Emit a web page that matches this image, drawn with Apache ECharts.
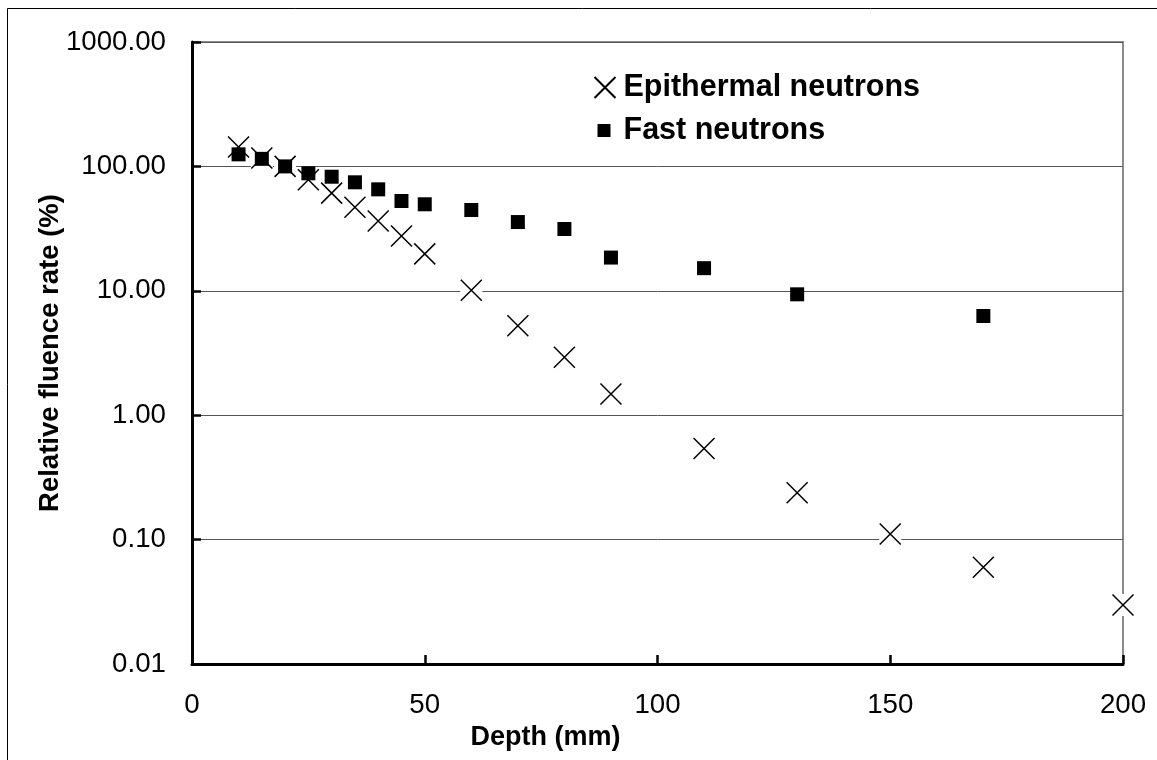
<!DOCTYPE html>
<html><head><meta charset="utf-8">
<script src="https://cdn.jsdelivr.net/npm/echarts@6/dist/echarts.min.js"></script>
<style>html,body{margin:0;padding:0;background:#fff}#c{width:1157px;height:760px}</style>
</head><body><div id="c"></div>
<script>
// Data
const depthEpi = [10,15,20,25,30,35,40,45,50,60,70,80,90,110,130,150,170,200];
const epithermal = [143,117,100,78,61,47,36.4,27.6,19.8,10.1,5.24,2.92,1.48,0.54,0.238,0.111,0.060,0.0298];
const depthFast = [10,15,20,25,30,35,40,45,50,60,70,80,90,110,130,170];
const fast = [125,115,100,88,82.6,74.5,65.4,52.7,49.6,44.6,35.7,31.4,18.5,15.2,9.37,6.27];
const yTickLabels = ['0.01','0.10','1.00','10.00','100.00','1000.00'];
const seriesNames = ['Epithermal neutrons','Fast neutrons'];

const FONT = "'Liberation Sans', Arial, sans-serif";
const CROSS = 'path://M0,0L20,20M20,0L0,20';
const epiData = depthEpi.map((d,i)=>[d,epithermal[i]]);
const fastData = depthFast.map((d,i)=>[d,fast[i]]);

const chart = echarts.init(document.getElementById('c'), null, {renderer:'canvas'});
chart.setOption({
  animation:false,
  backgroundColor:'#fff',
  graphic:[{type:'rect', shape:{x:7.5,y:8.5,width:1200,height:800}, style:{fill:'none',stroke:'#000',lineWidth:1}, silent:true, z:-10}],
  grid:{left:192,right:34,top:42,bottom:96,show:true,borderColor:'#8c8c8c',borderWidth:2,backgroundColor:'transparent'},
  legend:[
    {data:[seriesNames[0]], orient:'vertical', left:593.5, top:72, padding:0, itemWidth:21, itemHeight:21,
     textStyle:{fontFamily:FONT,fontSize:30.5,fontWeight:'bold',color:'#000',padding:[0,0,0,3]}, selectedMode:false},
    {data:[seriesNames[1]], orient:'vertical', left:597.5, top:115, padding:0, itemWidth:13, itemHeight:13,
     textStyle:{fontFamily:FONT,fontSize:30.5,fontWeight:'bold',color:'#000',padding:[0,0,0,8]}, selectedMode:false}
  ],
  xAxis:{type:'value',min:0,max:200,interval:50,
    name:'Depth (mm)',nameLocation:'middle',nameGap:60,nameMoveOverlap:false,
    nameTextStyle:{fontFamily:FONT,fontSize:27,fontWeight:'bold',color:'#000',padding:[0,224,0,0]},
    axisLine:{show:true,onZero:false,lineStyle:{color:'#000',width:3}},
    axisTick:{show:true,inside:true,length:9,lineStyle:{color:'#000',width:2.5}},
    axisLabel:{fontFamily:FONT,fontSize:27.7,color:'#000',margin:27},
    splitLine:{show:false}},
  yAxis:{type:'log',logBase:10,min:0.01,max:1000,
    name:'Relative fluence rate (%)',nameLocation:'middle',nameGap:128,nameMoveOverlap:false,
    nameTextStyle:{fontFamily:FONT,fontSize:27.5,fontWeight:'bold',color:'#000'},
    axisLine:{show:true,lineStyle:{color:'#000',width:3}},
    axisTick:{show:true,inside:true,length:9,lineStyle:{color:'#000',width:2.5}},
    axisLabel:{fontFamily:FONT,fontSize:27.7,color:'#000',margin:26,
      formatter:v=>yTickLabels[Math.round(Math.log10(v))+2]},
    splitLine:{show:true,lineStyle:{color:'#555',width:1}},
    minorTick:{show:false}},
  series:[
    {type:'scatter',data:epiData,symbol:'rect',symbolSize:22,itemStyle:{color:'#fff',opacity:1},silent:true,clip:false,z:2},
    {name:seriesNames[0],type:'scatter',data:epiData,symbol:CROSS,symbolSize:21,clip:false,z:3,
      itemStyle:{color:'rgba(0,0,0,0)',borderColor:'#000',borderWidth:1.5,opacity:1}},
    {name:seriesNames[1],type:'scatter',data:fastData,symbol:'rect',symbolSize:14,clip:false,z:4,
      itemStyle:{color:'#000',opacity:1}}
  ]
});
</script></body></html>
